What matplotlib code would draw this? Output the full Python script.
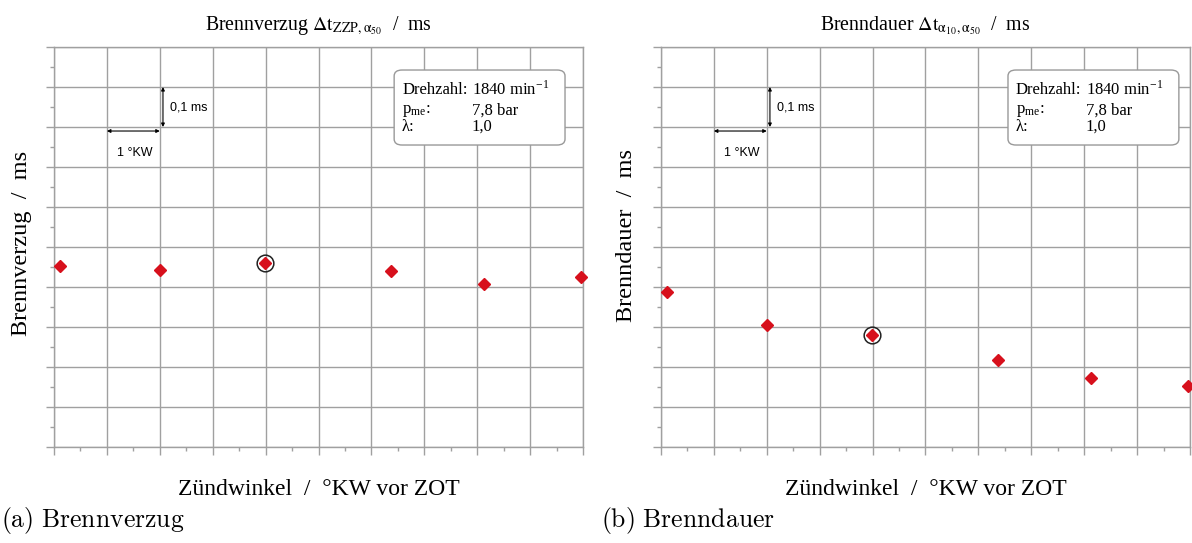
import numpy as np
import matplotlib.pyplot as plt

plt.rcParams['font.family'] = ['Liberation Serif', 'DejaVu Serif']
plt.rcParams['mathtext.fontset'] = 'stix'

# Daten (relative Skala: 1 Kästchen = 1 °KW bzw. 0,1 ms, keine Achsbeschriftung)
zuendwinkel = [10.11, 12.0, 13.98, 16.37, 18.13, 19.97]
brennverzug = [0.452, 0.442, 0.459, 0.441, 0.408, 0.424]
brenndauer = [0.388, 0.305, 0.279, 0.217, 0.172, 0.153]
idx_ref = 2   # markierter Betriebspunkt

titles = [r'Brennverzug $\mathrm{\Delta t_{ZZP,\alpha_{50}}}$  /  ms',
          r'Brenndauer $\mathrm{\Delta t_{\alpha_{10},\alpha_{50}}}$  /  ms']
ylabels = ['Brennverzug  /  ms', 'Brenndauer  /  ms']
captions = ['(a) Brennverzug', '(b) Brenndauer']
xlabel = 'Zündwinkel  /  °KW vor ZOT'
info_labels = ['Drehzahl:', r'p$_{\mathregular{me}}$:', 'λ:']
info_values = [r'1840 min$^{\mathregular{-1}}$', '7,8 bar', '1,0']

xlim = (10, 20)
ylim = (0, 1.0)
grid_c = '#a0a0a0'

fig = plt.figure(figsize=(11.92, 5.43), dpi=100)
ax_l = fig.add_axes([0.0453, 0.1768, 0.4438, 0.7366])
ax_r = fig.add_axes([0.5545, 0.1768, 0.4438, 0.7366])

for ax, y, title, ylab, box_x, ylab_pos in zip([ax_l, ax_r], [brennverzug, brenndauer],
                                               titles, ylabels, [0.643, 0.656],
                                               [(-0.042, 0.51), (-0.045, 0.53)]):
    ax.set_xlim(*xlim)
    ax.set_ylim(*ylim)
    ax.set_xticks(np.arange(xlim[0], xlim[1] + 0.01, 1))
    ax.set_yticks(np.arange(ylim[0], ylim[1] + 0.001, 0.1))
    ax.set_xticks(np.arange(xlim[0] + 0.5, xlim[1], 1), minor=True)
    ax.set_yticks(np.arange(ylim[0] + 0.05, ylim[1], 0.1), minor=True)
    ax.set_xticklabels([])
    ax.set_yticklabels([])
    ax.tick_params(which='major', direction='out', length=6, width=1, color=grid_c)
    ax.tick_params(which='minor', direction='out', length=3, width=1, color=grid_c)
    ax.grid(True, which='major', color=grid_c, lw=1)
    for s in ax.spines.values():
        s.set_color(grid_c)
        s.set_linewidth(1)

    ax.plot(zuendwinkel, y, 'D', color='#d7101c', ms=6, mec='#d7101c', clip_on=False, zorder=5)
    ax.plot(zuendwinkel[idx_ref], y[idx_ref], 'o', ms=12, mfc='none', mec='#222222',
            mew=1.1, zorder=6)

    ax.set_title(title, fontsize=14.3, pad=12)
    ax.set_ylabel(ylab, fontsize=17.5)
    ax.yaxis.set_label_coords(*ylab_pos)
    ax.set_xlabel(xlabel, fontsize=17)
    ax.xaxis.set_label_coords(0.5, -0.08)

    # Maßstab
    ax.annotate('', xy=(xlim[0] + 1, 0.79), xytext=(xlim[0] + 2, 0.79),
                arrowprops=dict(arrowstyle='<|-|>', mutation_scale=5, color='black', lw=0.8,
                                shrinkA=0, shrinkB=0))
    ax.annotate('', xy=(xlim[0] + 2.06, 0.8), xytext=(xlim[0] + 2.06, 0.9),
                arrowprops=dict(arrowstyle='<|-|>', mutation_scale=5, color='black', lw=0.8,
                                shrinkA=0, shrinkB=0))
    ax.text(xlim[0] + 1.52, 0.735, '1 °KW', family='Liberation Sans', fontsize=9,
            ha='center', va='center')
    ax.text(xlim[0] + 2.2, 0.85, '0,1 ms', family='Liberation Sans', fontsize=9,
            ha='left', va='center')

    # Infobox
    box = plt.matplotlib.patches.FancyBboxPatch((box_x, 0.755), 0.323, 0.1875,
                                                boxstyle='round,pad=0,rounding_size=0.015',
                                                transform=ax.transAxes, fc='white',
                                                ec='#999999', lw=1, zorder=7)
    ax.add_patch(box)
    for lab, val, yy in zip(info_labels, info_values, [0.893, 0.84, 0.80]):
        ax.text(box_x + 0.015, yy, lab, transform=ax.transAxes, fontsize=12,
                va='center', zorder=8)
        ax.text(box_x + 0.147, yy, val, transform=ax.transAxes, fontsize=12,
                va='center', zorder=8)

for xpos, cap in zip([0.0, 0.503], captions):
    fig.text(xpos + 0.001, 0.0295, r'$\mathrm{' + cap.replace(' ', r'\ ') + '}$',
             math_fontfamily='cm', fontsize=18.5, ha='left', va='baseline')

fig.savefig('out.png', dpi=100)
